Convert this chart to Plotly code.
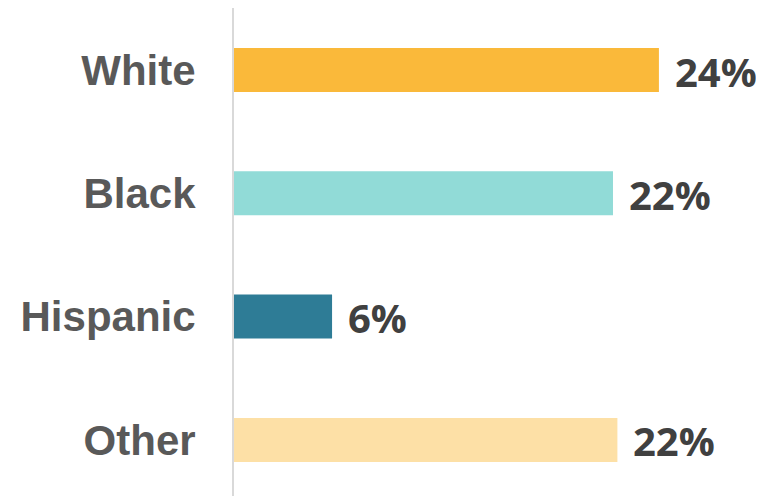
import plotly.graph_objects as go

categories = ["White", "Black", "Hispanic", "Other"]
values = [24.05, 21.45, 5.55, 21.7]
labels = ["24%", "22%", "6%", "22%"]
colors = ["#FAB93A", "#91DBD7", "#2E7C96", "#FDE0A6"]

fig = go.Figure()
fig.add_trace(go.Bar(
    y=categories, x=values, orientation="h",
    marker=dict(color=colors, line=dict(width=0)),
    width=0.357, hoverinfo="skip",
))
for c, v, t in zip(categories, values, labels):
    fig.add_annotation(x=v, y=c, text=t, showarrow=False, xanchor="left",
                       yanchor="middle", xshift=14, yshift=-1,
                       font=dict(family="Open Sans", size=40, color="#404040", weight="bold"))

fig.update_layout(
    width=764, height=496,
    margin=dict(l=226, r=0, t=0, b=0),
    plot_bgcolor="white", paper_bgcolor="white",
    showlegend=False,
    xaxis=dict(range=[0, 30.45], visible=False, fixedrange=True),
    yaxis=dict(
        categoryorder="array", categoryarray=categories[::-1],
        range=[-0.520, 3.503],
        showline=True, linecolor="#D9D9D9", linewidth=2,
        showgrid=False, zeroline=False, ticks="",
        ticklabelstandoff=28,
        tickfont=dict(family="Liberation Sans", size=42, color="#595959", weight="bold"),
    ),
)
fig.write_html("out.html")
